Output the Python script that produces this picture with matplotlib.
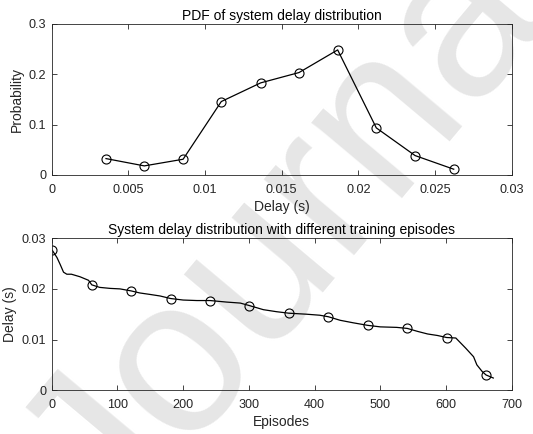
import matplotlib
matplotlib.use('Agg')
import matplotlib.pyplot as plt

# top panel: PDF of delay
delay_bins = [0.00354, 0.00604, 0.00857, 0.01106, 0.01363, 0.01613, 0.01865, 0.02117, 0.0237, 0.02622]
probability = [0.0324, 0.0179, 0.0311, 0.1457, 0.1828, 0.2033, 0.2483, 0.0934, 0.0384, 0.0113]

# bottom panel: sorted delay over episodes
episodes = [1, 8, 13, 18, 23, 30, 43, 56, 61, 73, 89, 104, 121, 134, 150, 165, 181, 200, 221, 241,
            266, 287, 301, 322, 342, 361, 388, 408, 421, 439, 459, 481, 500, 525, 541, 557, 572, 587,
            601, 615, 630, 642, 647, 655, 661, 672]
delay = [0.0276, 0.0262, 0.0248, 0.0233, 0.0229, 0.0229, 0.0224, 0.0217, 0.0208, 0.0203, 0.0201,
         0.0200, 0.0196, 0.0192, 0.0189, 0.0186, 0.0181, 0.0178, 0.0177, 0.0177, 0.0174, 0.0172,
         0.0167, 0.0159, 0.0155, 0.0152, 0.0150, 0.0148, 0.0145, 0.0138, 0.0133, 0.0128, 0.0125,
         0.0124, 0.0122, 0.0116, 0.0111, 0.0108, 0.0104, 0.0103, 0.0083, 0.0066, 0.0050, 0.0037,
         0.0030, 0.0024]
marker_episodes = [1, 61, 121, 181, 241, 301, 361, 421, 481, 541, 601, 661]
marker_delay = [0.0276, 0.0208, 0.0196, 0.0181, 0.0177, 0.0167, 0.0152, 0.0145, 0.0128, 0.0122, 0.0103, 0.0029]

top_xticks = [0, 0.005, 0.01, 0.015, 0.02, 0.025, 0.03]
top_xlabels = ['0', '0.005', '0.01', '0.015', '0.02', '0.025', '0.03']
top_yticks = [0, 0.1, 0.2, 0.3]
top_ylabels = ['0', '0.1', '0.2', '0.3']
bot_xticks = [0, 100, 200, 300, 400, 500, 600, 700]
bot_yticks = [0, 0.01, 0.02, 0.03]
bot_ylabels = ['0', '0.01', '0.02', '0.03']

plt.rcParams['font.family'] = ['Liberation Sans', 'DejaVu Sans']
axcol = '#262626'

fig = plt.figure(figsize=(5.33, 4.34), dpi=100)

# watermark behind everything
fig.text(0.57, 0.49, 'Journal', fontsize=160, color='#e6e6e6', rotation=50,
         ha='center', va='center', zorder=-1)


def style(ax):
    ax.set_facecolor('none')
    for s in ax.spines.values():
        s.set_color(axcol)
        s.set_linewidth(0.6)
    ax.tick_params(direction='in', top=True, right=True, length=3.5, width=0.6,
                   colors=axcol, labelcolor=axcol, labelsize=9.1)
    ax.tick_params(axis='x', pad=6.5)
    ax.tick_params(axis='y', pad=4)


ax1 = fig.add_axes([0.097, 0.597, 0.863, 0.348])
ax1.plot(delay_bins, probability, color='black', linewidth=0.9, marker='o',
         markersize=6.5, markerfacecolor='none', markeredgecolor='black', markeredgewidth=0.8)
ax1.set_xlim(0, 0.03)
ax1.set_ylim(0, 0.3)
ax1.set_xticks(top_xticks, top_xlabels)
ax1.set_yticks(top_yticks, top_ylabels)
ax1.set_xlabel('Delay (s)', color=axcol, fontsize=10, labelpad=3)
ax1.set_ylabel('Probability', color=axcol, fontsize=10, labelpad=3)
ax1.set_title('PDF of system delay distribution', color='black', fontsize=10, pad=3)
style(ax1)

ax2 = fig.add_axes([0.097, 0.101, 0.863, 0.350])
ax2.plot(episodes, delay, color='black', linewidth=0.9)
ax2.plot(marker_episodes, marker_delay, linestyle='none', marker='o', markersize=6.5,
         markerfacecolor='none', markeredgecolor='black', markeredgewidth=0.8)
ax2.set_xlim(0, 700)
ax2.set_ylim(0, 0.03)
ax2.set_xticks(bot_xticks)
ax2.set_yticks(bot_yticks, bot_ylabels)
ax2.set_xlabel('Episodes', color=axcol, fontsize=10, labelpad=3)
ax2.set_ylabel('Delay (s)', color=axcol, fontsize=10, labelpad=3)
ax2.set_title('System delay distribution with different training episodes', color='black',
              fontsize=10, pad=3)
style(ax2)

plt.savefig('out.png', dpi=100)
